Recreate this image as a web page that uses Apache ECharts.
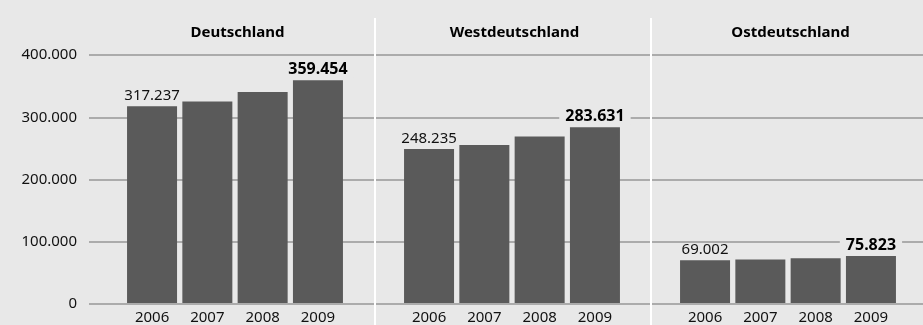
<!DOCTYPE html>
<html>
<head>
<meta charset="utf-8">
<script src="https://cdn.jsdelivr.net/npm/echarts@6/dist/echarts.min.js"></script>
<style>
  html, body { margin: 0; padding: 0; background: #e8e8e8; }
  #chart { width: 923px; height: 325px; }
</style>
</head>
<body>
<div id="chart"></div>
<script>
// Jahre und Regionen
const years = ['2006', '2007', '2008', '2009'];
const regions = ['Deutschland', 'Westdeutschland', 'Ostdeutschland'];

// Werte je Region
const deutschland = [317237, 325000, 340500, 359454];
const westdeutschland = [248235, 255000, 268500, 283631];
const ostdeutschland = [69002, 70000, 72000, 75823];

// Achsenbeschriftung
const yTicks = [0, 100000, 200000, 300000, 400000];

const seriesValues = [deutschland, westdeutschland, ostdeutschland];

// Layout
const W = 923, H = 325;
const plotTop = 55, plotBottom = 304;
const axisLeft = 89;
const panelLeft = [124.4, 401.4, 677.4];
const panelWidth = 221.2;
const barColor = '#5a5a5a';
const bg = '#e8e8e8';
const font = '"Noto Sans", "DejaVu Sans", sans-serif';

function fmt(v) {
  return String(Math.round(v)).replace(/\B(?=(\d{3})+(?!\d))/g, '.');
}

const grids = [{ left: axisLeft, right: 0, top: plotTop, bottom: H - plotBottom }];
const xAxes = [{ gridIndex: 0, type: 'value', show: false, min: 0, max: 1 }];
const yAxes = [{
  gridIndex: 0, type: 'value', min: yTicks[0], max: yTicks[yTicks.length - 1],
  interval: yTicks[1] - yTicks[0],
  axisLine: { show: false }, axisTick: { show: false },
  axisLabel: { formatter: fmt, color: '#111', fontSize: 15, fontFamily: font, margin: 12,
    padding: [0, 0, 3, 0] },
  splitLine: { lineStyle: { color: '#ababab', width: 2 } }
}];
const series = [];
const titles = [];
const graphics = [];

regions.forEach((name, i) => {
  const g = i + 1;
  grids.push({ left: panelLeft[i], width: panelWidth, top: plotTop, bottom: H - plotBottom });
  xAxes.push({
    gridIndex: g, type: 'category', data: years,
    axisLine: { show: false }, axisTick: { show: false },
    axisLabel: { color: '#111', fontSize: 15, fontFamily: font, margin: 7 }
  });
  yAxes.push({ gridIndex: g, type: 'value', min: yTicks[0], max: yTicks[yTicks.length - 1], show: false });

  const vals = seriesValues[i];
  series.push({
    type: 'bar', xAxisIndex: g, yAxisIndex: g, barWidth: 50,
    itemStyle: { color: barColor },
    data: vals.map((v, k) => {
      const item = { value: v };
      if (k === 0) {
        item.label = { show: true, position: 'top', distance: 3, formatter: p => fmt(p.value),
          color: '#111', fontSize: 15, fontFamily: font };
      } else if (k === vals.length - 1) {
        item.label = { show: true, position: 'top', distance: 3, formatter: p => fmt(p.value),
          color: '#000', fontSize: 16, fontWeight: 'bold', fontFamily: font,
          backgroundColor: bg, padding: [0, 6] };
      }
      return item;
    })
  });

  const center = panelLeft[i] + panelWidth / 2 - 2.5;
  titles.push({
    text: name, left: center, top: 20, textAlign: 'center',
    textStyle: { fontSize: 15, fontWeight: 'bold', color: '#000', fontFamily: font }
  });

  if (i > 0) {
    const x = Math.round((panelLeft[i - 1] + panelLeft[i] + panelWidth) / 2 + 1);
    graphics.push({
      type: 'line', z: 100,
      shape: { x1: x, y1: 18, x2: x, y2: H },
      style: { stroke: '#ffffff', lineWidth: 2 }
    });
  }
});

const chart = echarts.init(document.getElementById('chart'), null, { renderer: 'canvas' });
chart.setOption({
  backgroundColor: bg,
  animation: false,
  title: titles,
  grid: grids,
  xAxis: xAxes,
  yAxis: yAxes,
  series: series,
  graphic: graphics
});
</script>
</body>
</html>
